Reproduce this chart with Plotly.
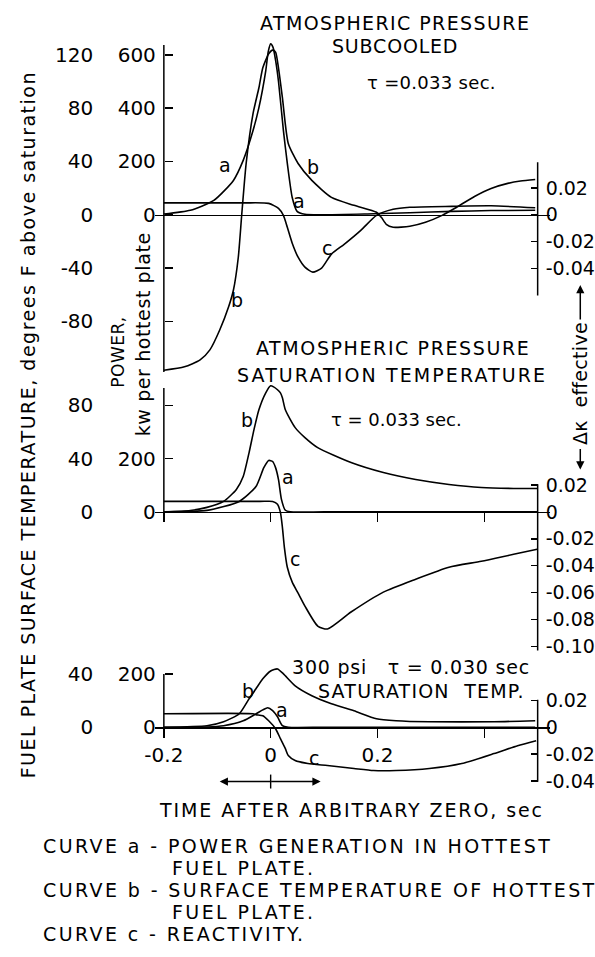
import plotly.graph_objects as go

# ---------------- data ----------------
# time after arbitrary zero, sec ; a = power (kW per hottest plate),
# b = surface temperature (deg F above saturation), c = reactivity (delta k effective)

# Panel 1: atmospheric pressure, subcooled
t1_a = [-0.2, -0.1505, -0.1064, -0.0697, -0.0514, -0.0330, -0.0220, -0.0092, -0.0045, 0.0,
        0.0045, 0.0092, 0.0147, 0.0239, 0.0312, 0.0404, 0.0495, 0.0642, 0.1927, 0.2606,
        0.3394, 0.4128, 0.4954]
a1 = [3, 17, 54, 129, 204, 316, 402, 540, 612, 641,
      628, 580, 500, 316, 193, 65, 13, 2, 4, 8,
      13, 16, 17]

t1_b = [-0.2, -0.1615, -0.1321, -0.1138, -0.0954, -0.0789, -0.0697, -0.0606, -0.0541, -0.0459,
        -0.0330, -0.0220, -0.0147, -0.0037, 0.0037, 0.0092, 0.0147, 0.0220, 0.0330, 0.0514,
        0.0771, 0.1138, 0.1560, 0.1982, 0.2073, 0.2165, 0.2294, 0.2606, 0.2899, 0.3211,
        0.3450, 0.3817, 0.4128, 0.4440, 0.4679, 0.4954]
b1 = [-116.6, -114.0, -108.8, -101.3, -86.4, -69.2, -56.4, -31.8, 0.4, 38.5,
      75.9, 95.3, 110.3, 120.7, 123.5, 122.0, 110.0, 87.9, 53.5, 38.5,
      25.8, 13.1, 7.1, 1.9, -1.9, -7.1, -9.3, -8.6, -5.6, -0.4,
      4.9, 13.8, 19.8, 23.6, 25.4, 26.5]

t1_c = [-0.2, -0.05, -0.0037, 0.0147, 0.0239, 0.0312, 0.0404, 0.0514, 0.0642, 0.0789,
        0.0954, 0.1138, 0.1376, 0.1688, 0.1982, 0.2294, 0.2606, 0.3394, 0.4128, 0.4954]
c1 = [0.0089, 0.0089, 0.0085, 0.0048, -0.0004, -0.0093, -0.0211, -0.0315, -0.0389, -0.0426,
      -0.0396, -0.0292, -0.0219, -0.0115, -0.0004, 0.0041, 0.0056, 0.0063, 0.0067, 0.0052]

# Panel 2: atmospheric pressure, saturation temperature
t2_a = [-0.2, -0.1193, -0.0587, -0.0275, -0.0128, -0.0037, 0.0037, 0.0092, 0.0147, 0.0202,
        0.0275, 0.0367, 0.1, 0.3, 0.4954]
a2 = [0.5, 5.6, 39, 95, 166, 193, 189, 166, 121, 47, 6, 0, 0, 0, 0]

t2_b = [-0.2, -0.1505, -0.1193, -0.0881, -0.0642, -0.0514, -0.0404, -0.0312, -0.0220, -0.0092,
        0.0, 0.0055, 0.0128, 0.0183, 0.0220, 0.0275, 0.0459, 0.0642, 0.0881, 0.1505,
        0.2110, 0.2716, 0.3339, 0.3945, 0.4550, 0.4991]
b2 = [0, 1.1, 3.4, 7.9, 16.8, 26.5, 44.5, 61.7, 76.6, 89.3,
      94.6, 93.8, 91.6, 89.3, 85.6, 76.6, 63.2, 55.7, 48.2, 37.0,
      29.5, 24.3, 20.6, 18.3, 17.6, 17.6]

t2_c = [-0.2, -0.02, 0.0037, 0.0128, 0.0183, 0.0220, 0.0257, 0.0312, 0.0404, 0.0514,
        0.0642, 0.0881, 0.1064, 0.1505, 0.2110, 0.2716, 0.3339, 0.3945, 0.4550, 0.4991]
c2 = [0.0078, 0.0078, 0.0078, 0.0056, -0.0004, -0.0115, -0.0263, -0.0411, -0.0522, -0.0604,
      -0.0700, -0.0848, -0.0870, -0.0744, -0.0596, -0.0500, -0.0411, -0.0367, -0.0315, -0.0278]

# Panel 3: 300 psi, saturation temperature
t3_a = [-0.2, -0.1193, -0.0881, -0.0514, -0.0275, -0.0147, -0.0055, 0.0037, 0.0128, 0.0220,
        0.0330, 0.1, 0.3, 0.4954]
a3 = [0, 1, 5.6, 24, 50, 65, 73, 62, 39, 5.6, 0, 0, 0, 0]

t3_b = [-0.2, -0.1193, -0.0881, -0.0587, -0.0404, -0.0275, -0.0147, 0.0, 0.0128, 0.0239,
        0.0459, 0.0771, 0.1138, 0.1560, 0.1982, 0.2349, 0.2972, 0.4183, 0.4954]
b3 = [0, 1.1, 4.1, 10.1, 21.3, 28.8, 36.3, 42.2, 43.7, 40.0,
      31.0, 23.6, 17.6, 12.3, 6.4, 4.9, 4.1, 4.1, 4.9]

t3_c = [-0.2, -0.033, -0.0275, -0.0147, -0.0037, 0.0092, 0.0183, 0.0275, 0.0330, 0.0459,
        0.0697, 0.1064, 0.1560, 0.1927, 0.2349, 0.2972, 0.3578, 0.4183, 0.4624, 0.4972]
c3 = [0.0100, 0.0100, 0.0093, 0.0085, 0.0048, -0.0011, -0.0085, -0.0159, -0.0211, -0.0248,
      -0.0270, -0.0285, -0.0307, -0.0322, -0.0322, -0.0307, -0.0270, -0.0196, -0.0137, -0.0100]

# tick values / labels
power_ticks = [[600, 400, 200, 0, -200, -400], [400, 200, 0], [200, 0]]
power_text = [["600", "400", "200", "0", "", ""], ["", "200", "0"], ["200", "0"]]
temp_ticks = [[120, 80, 40, 0, -40, -80], [80, 40, 0], [40, 0]]
temp_text = [["120", "80", "40", "0", "-40", "-80"], ["80", "40", "0"], ["40", "0"]]
k_ticks = [[0.02, 0, -0.02, -0.04], [0.02, 0, -0.02, -0.04, -0.06, -0.08, -0.10], [0.02, 0, -0.02, -0.04]]
k_text = [["0.02", "0", "-0.02", "-0.04"],
          ["0.02", "0", "-0.02", "-0.04", "-0.06", "-0.08", "-0.10"],
          ["0.02", "0", "-0.02", "-0.04"]]
time_ticks = [-0.2, 0, 0.2, 0.4]
time_text = ["-0.2", "0", "0.2", ""]

curves = [
    (t1_a, a1, t1_b, b1, t1_c, c1),
    (t2_a, a2, t2_b, b2, t2_c, c2),
    (t3_a, a3, t3_b, b3, t3_c, c3),
]

# ---------------- geometry / style ----------------
W, H = 595, 957
FONT = "DejaVu Sans"
PX_KW = 53.5 / 200      # px per kW
PX_F = 53.5 / 40        # px per deg F
PX_K = 27 / 0.02        # px per unit delta k
X0, PX_S = 265, 545     # pixel of t=0, px per second
XDOM = (147, 550)
panels = [dict(top=40, bot=376, zero=214.5),
          dict(top=380, bot=656, zero=512.5),
          dict(top=664, bot=792, zero=728.5)]
left_line = [(637, -589), (465, 0), (200, 0)]          # kW extents of left axis line
right_line = [(0.039, -0.06), (0.0205, -0.103), (0.0205, -0.0405)]  # dk extents

def pyf(p):
    return 1 - p / H

xr = [(XDOM[0] - X0) / PX_S, (XDOM[1] - X0) / PX_S]
fig = go.Figure()
layout = dict(width=W, height=H, margin=dict(l=0, r=0, t=0, b=0),
              paper_bgcolor="white", plot_bgcolor="rgba(0,0,0,0)", showlegend=False,
              font=dict(family=FONT, size=19, color="black"))
shapes = []
LW = 1.6

for i, pan in enumerate(panels):
    n = i + 1
    xid = "x" if n == 1 else f"x{n}"
    yp, yt, yk = 3 * i + 1, 3 * i + 2, 3 * i + 3
    ypid = "y" if yp == 1 else f"y{yp}"
    ytid, ykid = f"y{yt}", f"y{yk}"
    top, bot, zero = pan["top"], pan["bot"], pan["zero"]
    dom = [pyf(bot), pyf(top)]

    xkey = "xaxis" if n == 1 else f"xaxis{n}"
    xa = dict(domain=[XDOM[0] / W, XDOM[1] / W], range=xr, anchor="free", position=pyf(zero),
              showline=True, linecolor="black", linewidth=1.5, showgrid=False, zeroline=False,
              fixedrange=True)
    if n == 1:
        xa.update(ticks="", showticklabels=False)
    else:
        xa.update(tickmode="array", tickvals=time_ticks, ticks="outside", ticklen=9,
                  tickwidth=1.4, tickcolor="black")
        if n == 3:
            xa.update(ticktext=time_text, tickfont=dict(size=20))
        else:
            xa.update(showticklabels=False)
    layout[xkey] = xa

    common = dict(showgrid=False, zeroline=False, showline=False, fixedrange=True)
    layout["yaxis" if yp == 1 else f"yaxis{yp}"] = dict(
        domain=dom, range=[-(bot - zero) / PX_KW, (zero - top) / PX_KW], anchor="free",
        position=156 / W, side="left", tickmode="array", tickvals=power_ticks[i],
        ticktext=power_text[i], ticks="inside", ticklen=8, tickwidth=1.4, tickcolor="black",
        ticklabelstandoff=8, tickfont=dict(size=20), **common)
    layout[f"yaxis{yt}"] = dict(
        overlaying=ypid, range=[-(bot - zero) / PX_F, (zero - top) / PX_F], anchor="free",
        position=84 / W, side="left", tickmode="array", tickvals=temp_ticks[i],
        ticktext=temp_text[i], ticks="", tickfont=dict(size=20), **common)
    layout[f"yaxis{yk}"] = dict(
        overlaying=ypid, range=[-(bot - zero) / PX_K, (zero - top) / PX_K], anchor="free",
        position=(X0 + 0.5 * PX_S) / W, side="right", tickmode="array", tickvals=k_ticks[i],
        ticktext=k_text[i], ticks="inside", ticklen=7, tickwidth=1.4, tickcolor="black",
        ticklabelstandoff=7, tickfont=dict(size=19), **common)

    ta, a, tb, b, tc, c = curves[i]
    ln = dict(color="black", width=LW, shape="spline", smoothing=0.6)
    fig.add_trace(go.Scatter(x=ta, y=a, xaxis=xid, yaxis=ypid, mode="lines", line=ln, hoverinfo="skip"))
    fig.add_trace(go.Scatter(x=tb, y=b, xaxis=xid, yaxis=ytid, mode="lines", line=ln, hoverinfo="skip"))
    fig.add_trace(go.Scatter(x=tc, y=c, xaxis=xid, yaxis=ykid, mode="lines", line=ln, hoverinfo="skip"))

    shapes.append(dict(type="line", xref=xid, yref=ypid, x0=-0.2, x1=-0.2,
                       y0=left_line[i][0], y1=left_line[i][1], line=dict(color="black", width=1.5)))
    shapes.append(dict(type="line", xref=xid, yref=ykid, x0=0.5, x1=0.5,
                       y0=right_line[i][0], y1=right_line[i][1], line=dict(color="black", width=1.5)))

def txt(s, x, y, size=19, ls=0, xanchor="center", angle=0):
    if ls:
        s = f'<span style="letter-spacing:{ls}px">{s}</span>'
    return dict(text=s, x=x / W, y=pyf(y), xref="paper", yref="paper", showarrow=False,
                font=dict(family=FONT, size=size, color="black"), xanchor=xanchor,
                yanchor="middle", textangle=angle)

LX, FX = 31, 162
ann = [
    txt("ATMOSPHERIC PRESSURE", 392, 22, 19, 1.4),
    txt("SUBCOOLED", 392, 45, 19, 0.8),
    txt("τ =0.033 sec.", 429, 82, 18, 0.3),
    txt("ATMOSPHERIC PRESSURE", 390, 348, 19, 1.6),
    txt("SATURATION TEMPERATURE", 389, 375, 19, 2.1),
    txt("τ = 0.033 sec.", 393, 420, 18, 0),
    txt("300 psi   τ = 0.030 sec", 408, 668, 19, 0.8),
    txt("SATURATION  TEMP.", 419, 692, 19, 1.2),
    txt("TIME AFTER ARBITRARY ZERO, sec", 347, 812, 19, 1.9),
    txt("CURVE a - POWER GENERATION IN HOTTEST", LX, 848, 19, 2.4, "left"),
    txt("FUEL PLATE.", FX, 870, 19, 2.4, "left"),
    txt("CURVE b - SURFACE TEMPERATURE OF HOTTEST", LX, 892, 19, 2.4, "left"),
    txt("FUEL PLATE.", FX, 914, 19, 2.4, "left"),
    txt("CURVE c - REACTIVITY.", LX, 936, 19, 2.4, "left"),
    txt("FUEL PLATE SURFACE TEMPERATURE, degrees F above saturation", 17, 425, 19, 1.5, angle=-90),
    txt("POWER,", 109, 352, 17, 0.5, angle=-90),
    txt("kw per hottest plate", 135, 334, 19, 0.6, angle=-90),
    txt("Δκ  effective", 581, 384, 19, 0.3, angle=-90),
    # curve letters
    txt("a", 218, 165), txt("b", 308, 167), txt("a", 294, 201), txt("b", 231, 300), txt("c", 323, 248),
    txt("b", 241, 420), txt("a", 283, 477), txt("c", 290, 560),
    txt("b", 242, 692), txt("a", 277, 711), txt("c", 309, 759),
]

def arrow(hx, hy, ax, ay):
    return dict(x=hx / W, y=pyf(hy), xref="paper", yref="paper", text="", showarrow=True,
                ax=ax, ay=ay, axref="pixel", ayref="pixel", arrowhead=2, arrowsize=1.1,
                arrowwidth=1.5, arrowcolor="black", standoff=0, startstandoff=0)

ann += [arrow(213, 783, 52, 0), arrow(316, 783, -51, 0),
        arrow(581, 285, 0, 36), arrow(581, 470, 0, -22)]
shapes.append(dict(type="line", xref="paper", yref="paper", x0=265 / W, x1=265 / W,
                   y0=pyf(776), y1=pyf(790), line=dict(color="black", width=1.4)))

layout["annotations"] = ann
layout["shapes"] = shapes
fig.update_layout(**layout)
fig.write_html("out.html", config={"displayModeBar": False, "staticPlot": True},
               post_script="document.body.style.margin='0px';document.body.style.overflow='hidden';")
